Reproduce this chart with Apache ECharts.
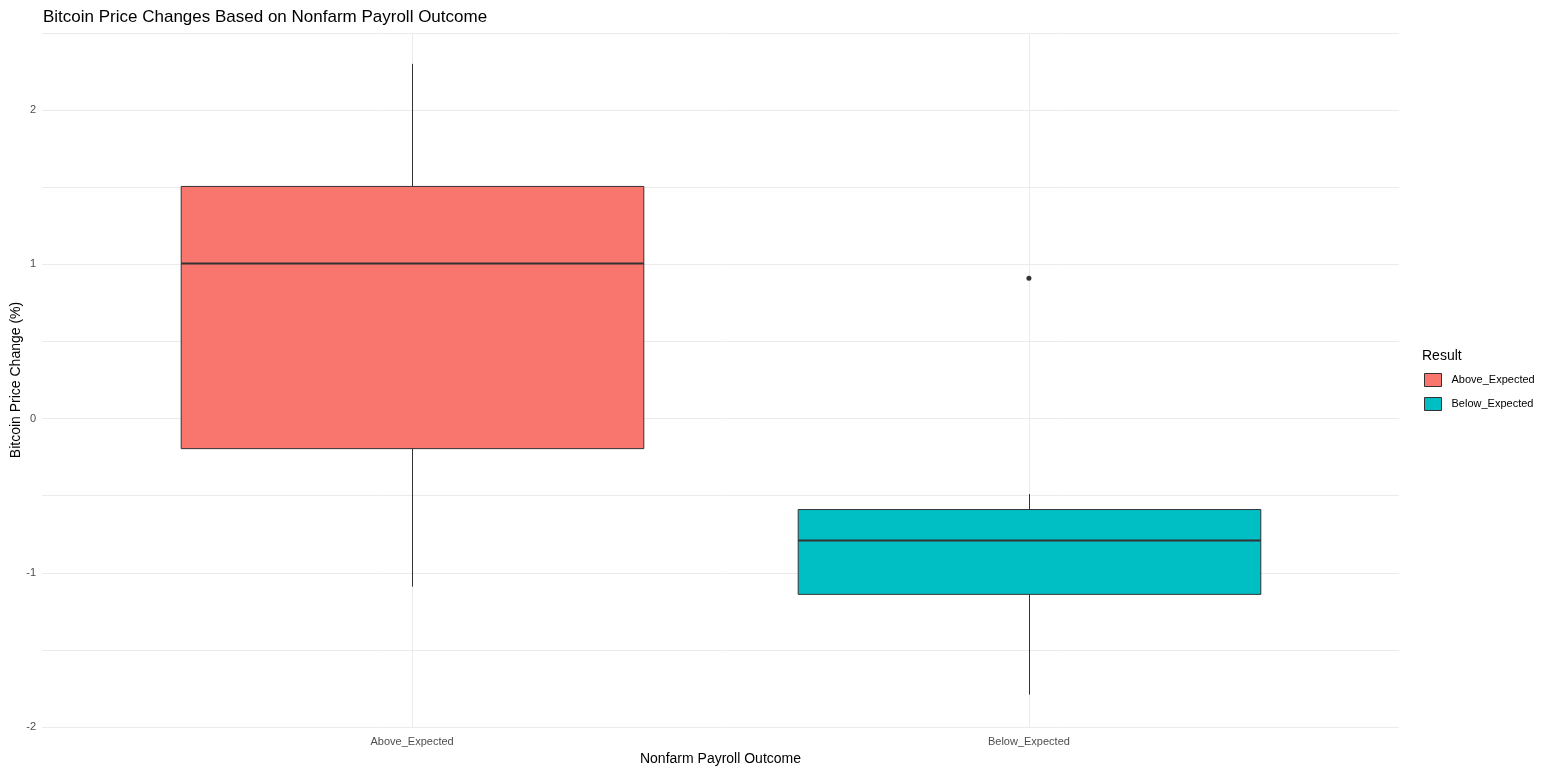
<!DOCTYPE html>
<html><head><meta charset="utf-8">
<script src="https://cdn.jsdelivr.net/npm/echarts@6/dist/echarts.min.js"></script>
<style>html,body{margin:0;padding:0;background:#fff}#c{width:1557px;height:772px}</style>
</head><body><div id="c"></div>
<script>
const categories = ['Above_Expected', 'Below_Expected'];
const colors = ['#F8766D', '#00BFC4'];
// [lower whisker, Q1, median, Q3, upper whisker]
const aboveStats = [-1.09, -0.195, 1.005, 1.505, 2.30];
const belowStats = [-1.79, -1.14, -0.79, -0.59, -0.49];
const outliers = [[2, 0.91]];
const yTicks = [-2, -1, 0, 1, 2];

const FONT = '"Liberation Sans", Arial, sans-serif';
const chart = echarts.init(document.getElementById('c'));

function renderBox(params, api) {
  const x = api.value(0);
  const lo = api.coord([x, api.value(1)]);
  const q1 = api.coord([x, api.value(2)]);
  const md = api.coord([x, api.value(3)]);
  const q3 = api.coord([x, api.value(4)]);
  const hi = api.coord([x, api.value(5)]);
  const w = api.size([0.75, 0])[0];
  const cx = Math.round(lo[0]) + 0.5;
  const stroke = '#333333';
  return {
    type: 'group',
    children: [
      {type: 'line', shape: {x1: cx, y1: hi[1], x2: cx, y2: q3[1]}, style: {stroke: stroke, lineWidth: 1}},
      {type: 'line', shape: {x1: cx, y1: q1[1], x2: cx, y2: lo[1]}, style: {stroke: stroke, lineWidth: 1}},
      {type: 'rect', shape: {x: cx - w / 2, y: q3[1], width: w, height: q1[1] - q3[1]},
        style: {fill: api.visual('color'), stroke: stroke, lineWidth: 1}},
      {type: 'line', shape: {x1: cx - w / 2, y1: md[1], x2: cx + w / 2, y2: md[1]}, style: {stroke: stroke, lineWidth: 2}}
    ]
  };
}

function renderGridX(params, api) {
  const cs = params.coordSys;
  const p = api.coord([api.value(0), 0]);
  const cx = Math.round(p[0]) + 0.5;
  return {type: 'line', shape: {x1: cx, y1: cs.y, x2: cx, y2: cs.y + cs.height},
    style: {stroke: '#EBEBEB', lineWidth: 1}};
}

const option = {
  backgroundColor: '#ffffff',
  animation: false,
  title: [
    {text: 'Bitcoin Price Changes Based on Nonfarm Payroll Outcome', left: 38, top: 4,
      textStyle: {fontFamily: FONT, fontSize: 17, fontWeight: 'normal', color: '#000'}},
    {text: 'Result', left: 1417, top: 344,
      textStyle: {fontFamily: FONT, fontSize: 14, fontWeight: 'normal', color: '#000'}}
  ],
  legend: {
    orient: 'vertical', left: 1424, top: 373, itemWidth: 17, itemHeight: 13, itemGap: 10,
    padding: 0,
    icon: 'rect',
    data: categories,
    textStyle: {fontFamily: FONT, fontSize: 11, color: '#000', padding: [0, 0, 0, 5]},
    itemStyle: {borderColor: '#333333', borderWidth: 1}
  },
  grid: {left: 42, right: 158, top: 33, bottom: 45, containLabel: false, outerBoundsMode: 'none'},
  xAxis: {
    type: 'value', min: 0.4, max: 2.6, interval: 0.2,
    axisLine: {show: false}, axisTick: {show: false}, splitLine: {show: false},
    axisLabel: {
      fontFamily: FONT, fontSize: 11, color: '#4D4D4D', margin: 9, showMinLabel: true, showMaxLabel: true,
      formatter: function (v) {
        for (let i = 0; i < categories.length; i++) {
          if (Math.abs(v - (i + 1)) < 1e-6) return categories[i];
        }
        return '';
      }
    },
    name: 'Nonfarm Payroll Outcome', nameLocation: 'middle', nameGap: 23,
    nameTextStyle: {fontFamily: FONT, fontSize: 14, color: '#000'}
  },
  yAxis: {
    type: 'value', min: -2, max: 2.5, interval: 0.5,
    axisLine: {show: false}, axisTick: {show: false},
    splitLine: {show: true, lineStyle: {color: '#EBEBEB', width: 1}},
    axisLabel: {
      fontFamily: FONT, fontSize: 11, color: '#4D4D4D', margin: 6,
      formatter: function (v) {
        for (const t of yTicks) { if (Math.abs(v - t) < 1e-6) return String(t); }
        return '';
      }
    },
    name: 'Bitcoin Price Change (%)', nameLocation: 'middle', nameGap: 19, nameMoveOverlap: false,
    nameTextStyle: {fontFamily: FONT, fontSize: 14, color: '#000'}
  },
  series: [
    {
      type: 'custom', z: 1, silent: true, renderItem: renderGridX,
      encode: {x: 0, y: 1},
      data: categories.map((c, i) => [i + 1, 0])
    },
    {
      name: categories[0], type: 'custom', z: 3, renderItem: renderBox,
      itemStyle: {color: colors[0]},
      encode: {x: 0, y: [1, 2, 3, 4, 5]},
      data: [[1].concat(aboveStats)]
    },
    {
      name: categories[1], type: 'custom', z: 3, renderItem: renderBox,
      itemStyle: {color: colors[1]},
      encode: {x: 0, y: [1, 2, 3, 4, 5]},
      data: [[2].concat(belowStats)]
    },
    {
      type: 'scatter', z: 4, symbol: 'circle', symbolSize: 5,
      itemStyle: {color: '#333333', opacity: 1},
      data: outliers
    }
  ]
};
chart.setOption(option);
</script></body></html>
